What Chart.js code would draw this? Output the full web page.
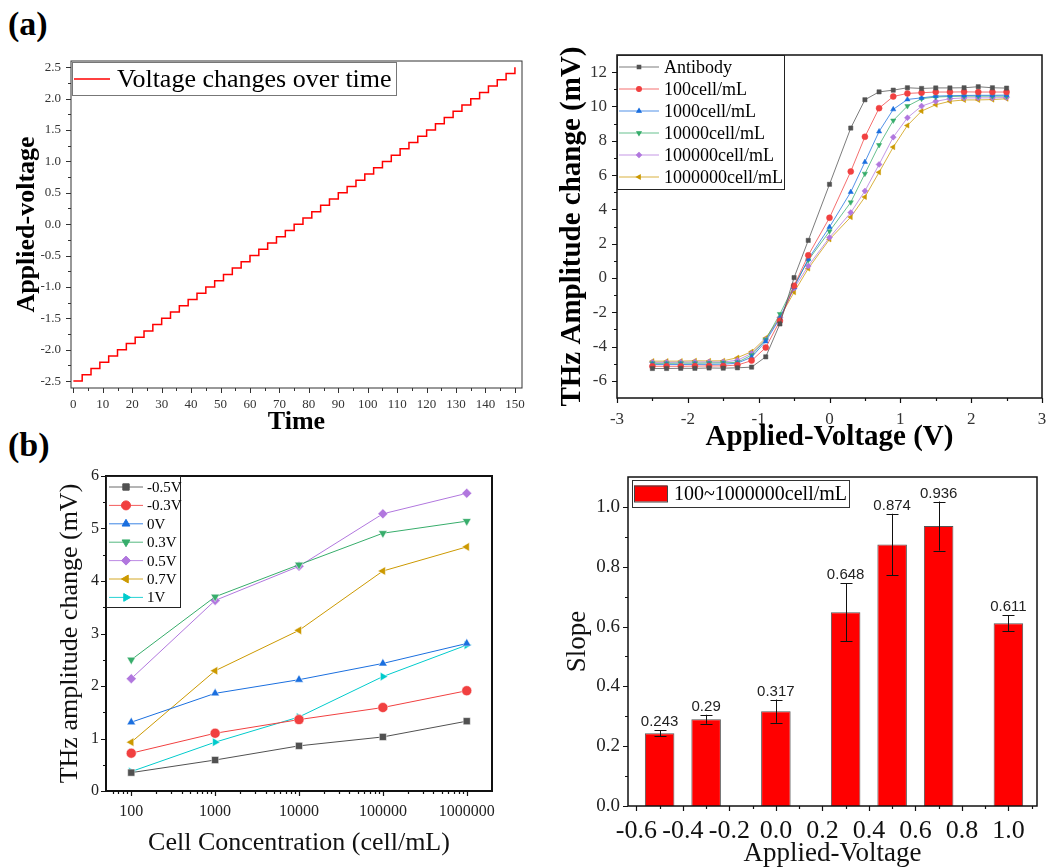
<!DOCTYPE html>
<html>
<head>
<meta charset="utf-8">
<script src="https://cdn.jsdelivr.net/npm/chart.js@4.4.1/dist/chart.umd.min.js"></script>
<style>
  body { margin: 0; background: #fff; width: 1048px; height: 867px; position: relative; overflow: hidden; }
  canvas { position: absolute; }
  .tag { position: absolute; font: bold 34px 'Liberation Serif', 'Times New Roman', serif; line-height: 34px; color: #000; }
</style>
</head>
<body>
<div class="tag" style="left:8px;top:7px">(a)</div>
<div class="tag" style="left:8px;top:428px">(b)</div>
<canvas id="stepChart" width="530" height="440" style="left:0;top:0"></canvas>
<canvas id="ampChart" width="518" height="420" style="left:530px;top:40px"></canvas>
<canvas id="concChart" width="530" height="427" style="left:0;top:440px"></canvas>
<canvas id="slopeChart" width="488" height="407" style="left:560px;top:460px"></canvas>
<script>
// ---- data: stepped voltage ramp ----
const stepTime = [0, 3, 6, 9, 12, 15, 18, 21, 24, 27, 30, 33, 36, 39, 42, 45, 48, 51, 54, 57,
  60, 63, 66, 69, 72, 75, 78, 81, 84, 87, 90, 93, 96, 99, 102, 105, 108, 111, 114, 117,
  120, 123, 126, 129, 132, 135, 138, 141, 144, 147, 150];
const stepVoltage = [-2.5, -2.4, -2.3, -2.2, -2.1, -2.0, -1.9, -1.8, -1.7, -1.6, -1.5, -1.4, -1.3, -1.2, -1.1,
  -1.0, -0.9, -0.8, -0.7, -0.6, -0.5, -0.4, -0.3, -0.2, -0.1, 0.0, 0.1, 0.2, 0.3, 0.4, 0.5,
  0.6, 0.7, 0.8, 0.9, 1.0, 1.1, 1.2, 1.3, 1.4, 1.5, 1.6, 1.7, 1.8, 1.9, 2.0, 2.1, 2.2, 2.3, 2.4, 2.5];
const stepTicksX = [0, 10, 20, 30, 40, 50, 60, 70, 80, 90, 100, 110, 120, 130, 140, 150];
const stepTicksY = [-2.5, -2.0, -1.5, -1.0, -0.5, 0.0, 0.5, 1.0, 1.5, 2.0, 2.5];

// ---- data: THz amplitude vs applied voltage ----
const ampVoltage = [-2.5, -2.3, -2.1, -1.9, -1.7, -1.5, -1.3, -1.1, -0.9, -0.7, -0.5, -0.3, 0,
  0.3, 0.5, 0.7, 0.9, 1.1, 1.3, 1.5, 1.7, 1.9, 2.1, 2.3, 2.5];
const ampAntibody = [-5.28, -5.28, -5.27, -5.27, -5.25, -5.26, -5.24, -5.2, -4.6, -2.68, 0.02, 2.19, 5.46,
  8.74, 10.39, 10.85, 10.95, 11.09, 11.05, 11.08, 11.08, 11.09, 11.15, 11.09, 11.07];
const amp100 = [-5.15, -5.15, -5.15, -5.14, -5.13, -5.13, -5.08, -4.82, -4.06, -2.5, -0.45, 1.32, 3.51,
  6.21, 8.23, 9.9, 10.58, 10.76, 10.8, 10.84, 10.84, 10.85, 10.84, 10.84, 10.84];
const amp1000 = [-5.05, -5.05, -5.05, -5.04, -5.04, -5.03, -4.97, -4.62, -3.7, -2.35, -0.55, 1.1, 2.97,
  5.01, 6.76, 8.54, 9.83, 10.41, 10.5, 10.6, 10.63, 10.64, 10.65, 10.65, 10.66];
const amp10000 = [-4.98, -4.98, -4.97, -4.97, -4.96, -4.95, -4.92, -4.5, -3.6, -2.1, -0.45, 1.03, 2.72,
  4.41, 6.08, 7.75, 9.18, 10.02, 10.45, 10.55, 10.58, 10.6, 10.6, 10.6, 10.6];
const amp100000 = [-4.92, -4.92, -4.91, -4.9, -4.9, -4.9, -4.8, -4.4, -3.6, -2.3, -0.6, 0.7, 2.36,
  3.81, 5.07, 6.62, 8.21, 9.34, 10.02, 10.3, 10.45, 10.5, 10.5, 10.5, 10.52];
const amp1000000 = [-4.85, -4.85, -4.85, -4.83, -4.84, -4.83, -4.65, -4.3, -3.5, -2.3, -0.83, 0.55, 2.25,
  3.55, 4.72, 6.16, 7.63, 8.89, 9.73, 10.1, 10.3, 10.38, 10.38, 10.4, 10.45];
const ampLabels = ['Antibody', '100cell/mL', '1000cell/mL', '10000cell/mL', '100000cell/mL', '1000000cell/mL'];
const ampTicksX = [-3, -2, -1, 0, 1, 2, 3];
const ampTicksY = [-6, -4, -2, 0, 2, 4, 6, 8, 10, 12];

// ---- data: amplitude change vs cell concentration ----
const concLevels = [100, 1000, 10000, 100000, 1000000];
const concM05 = [0.35, 0.59, 0.86, 1.03, 1.33];
const concM03 = [0.72, 1.10, 1.36, 1.59, 1.91];
const conc0 = [1.31, 1.86, 2.12, 2.43, 2.81];
const conc03 = [2.50, 3.70, 4.31, 4.91, 5.14];
const conc05 = [2.14, 3.63, 4.28, 5.28, 5.67];
const conc07 = [0.93, 2.29, 3.06, 4.19, 4.65];
const conc1 = [0.37, 0.93, 1.41, 2.18, 2.78];
const concLabels = ['-0.5V', '-0.3V', '0V', '0.3V', '0.5V', '0.7V', '1V'];
const concTicksY = [0, 1, 2, 3, 4, 5, 6];

// ---- data: slope per applied voltage ----
const slopeVoltage = [-0.5, -0.3, 0.0, 0.3, 0.5, 0.7, 1.0];
const slopeValue = [0.243, 0.29, 0.317, 0.648, 0.874, 0.936, 0.611];
const slopeError = [0.01, 0.015, 0.039, 0.097, 0.103, 0.082, 0.026];
const slopeLegend = '100~1000000cell/mL';
const slopeTicksX = [-0.6, -0.4, -0.2, 0.0, 0.2, 0.4, 0.6, 0.8, 1.0];
const slopeTicksY = [0.0, 0.2, 0.4, 0.6, 0.8, 1.0];

const SERIF = "'Liberation Serif', 'Times New Roman', serif";
const SANS = "'Liberation Sans', Arial, sans-serif";
const COLORS = ['#515151', '#F14040', '#1A6FDF', '#37AD6B', '#B177DE', '#CC9900', '#00CBCC'];
const MARKERS = [
  { style: 'rect', rot: 0 }, { style: 'circle', rot: 0 }, { style: 'triangle', rot: 0 },
  { style: 'triangle', rot: 180 }, { style: 'rectRot', rot: 0 }, { style: 'triangle', rot: -90 },
  { style: 'triangle', rot: 90 }
];

// midpoints between major ticks (plus one step past each end), kept inside the axis
function minorLinear(majors, min, max) {
  const step = majors[1] - majors[0];
  const out = [majors[0] - step / 2];
  majors.forEach(v => out.push(v + step / 2));
  return out.filter(v => v > min + 1e-9 && v < max - 1e-9);
}
function minorLog(min, max) {
  const out = [];
  for (let d = 1; d <= 1e7; d *= 10) {
    for (let k = 2; k <= 9; k++) {
      const v = k * d;
      if (v > min && v < max) out.push(v);
    }
  }
  return out;
}

// frame around the plot area plus outward major/minor tick marks
const frameTicks = {
  id: 'frameTicks',
  afterDraw(chart, args, o) {
    const { ctx, chartArea: a } = chart;
    const xs = chart.scales.x, ys = chart.scales.y;
    ctx.save();
    ctx.strokeStyle = o.color;
    ctx.lineWidth = o.width;
    ctx.strokeRect(a.left, a.top, a.right - a.left, a.bottom - a.top);
    ctx.lineWidth = o.tickWidth;
    ctx.beginPath();
    const xt = (vals, len) => vals.forEach(v => {
      const p = Math.round(xs.getPixelForValue(v)) + 0.5;
      ctx.moveTo(p, a.bottom); ctx.lineTo(p, a.bottom + len);
    });
    const yt = (vals, len) => vals.forEach(v => {
      const p = Math.round(ys.getPixelForValue(v)) + 0.5;
      ctx.moveTo(a.left, p); ctx.lineTo(a.left - len, p);
    });
    xt(o.xMajor, o.len); xt(o.xMinor, o.minorLen);
    yt(o.yMajor, o.len); yt(o.yMinor, o.minorLen);
    ctx.stroke();
    ctx.restore();
  }
};

// boxed legend inside the plot area
const boxLegend = {
  id: 'boxLegend',
  afterDraw(chart, args, o) {
    if (!o.items) return;
    const { ctx, chartArea: a } = chart;
    const x0 = a.left + o.dx, y0 = a.top + o.dy;
    ctx.save();
    ctx.fillStyle = '#fff';
    ctx.fillRect(x0, y0, o.w, o.h);
    ctx.strokeStyle = o.border;
    ctx.lineWidth = 1;
    ctx.strokeRect(x0 + 0.5, y0 + 0.5, o.w, o.h);
    o.items.forEach((it, i) => {
      const cy = y0 + o.first + i * o.gap;
      if (it.swatch) {
        ctx.fillStyle = it.color;
        ctx.fillRect(x0 + o.lineX0, cy - o.swatchH / 2, o.lineX1 - o.lineX0, o.swatchH);
        ctx.strokeStyle = '#444';
        ctx.strokeRect(x0 + o.lineX0 + 0.5, cy - o.swatchH / 2 + 0.5, o.lineX1 - o.lineX0, o.swatchH);
      } else {
        ctx.strokeStyle = it.color;
        ctx.globalAlpha = it.lineAlpha || 1;
        ctx.lineWidth = o.lineWidth;
        ctx.beginPath();
        ctx.moveTo(x0 + o.lineX0, cy); ctx.lineTo(x0 + o.lineX1, cy);
        ctx.stroke();
        ctx.globalAlpha = 1;
        if (it.marker) {
          ctx.fillStyle = it.color;
          ctx.strokeStyle = it.color;
          Chart.helpers.drawPoint(ctx, { pointStyle: it.marker.style, rotation: it.marker.rot, radius: o.markerR, borderWidth: 0.5 },
            x0 + (o.lineX0 + o.lineX1) / 2, cy);
        }
      }
      ctx.fillStyle = o.textColor || '#000';
      ctx.font = o.font;
      ctx.textBaseline = 'middle';
      ctx.textAlign = 'left';
      ctx.fillText(it.text, x0 + o.textX, cy + 1);
    });
    ctx.restore();
  }
};

// error bars and value labels on top of the slope bars
const barExtras = {
  id: 'barExtras',
  afterDatasetsDraw(chart) {
    const { ctx } = chart;
    const ys = chart.scales.y;
    const meta = chart.getDatasetMeta(0);
    ctx.save();
    ctx.strokeStyle = '#111';
    ctx.lineWidth = 1;
    meta.data.forEach((bar, i) => {
      const x = Math.round(bar.x) + 0.5;
      const top = ys.getPixelForValue(slopeValue[i] + slopeError[i]);
      const bot = ys.getPixelForValue(slopeValue[i] - slopeError[i]);
      ctx.beginPath();
      ctx.moveTo(x, top); ctx.lineTo(x, bot);
      ctx.moveTo(x - 6, Math.round(top) + 0.5); ctx.lineTo(x + 6, Math.round(top) + 0.5);
      ctx.moveTo(x - 6, Math.round(bot) + 0.5); ctx.lineTo(x + 6, Math.round(bot) + 0.5);
      ctx.stroke();
      ctx.fillStyle = '#222';
      ctx.font = '15px ' + SANS;
      ctx.textAlign = 'center';
      ctx.textBaseline = 'alphabetic';
      ctx.fillText(String(slopeValue[i]), bar.x, top - 4);
    });
    ctx.restore();
  }
};

function fixedTicks(list) {
  return scale => { scale.ticks = list.map(v => ({ value: v })); };
}
function fitY(w) {
  return s => { s.width = w; s.paddingTop = 0; s.paddingBottom = 0; };
}
function fitX(h) {
  return s => { s.height = h; s.paddingLeft = 0; s.paddingRight = 0; };
}
function baseOptions() {
  return {
    responsive: false,
    animation: false,
    devicePixelRatio: 1,
    events: [],
    plugins: { legend: { display: false }, tooltip: { enabled: false } }
  };
}
function pairs(xs, ys) {
  return xs.map((x, i) => ({ x: x, y: ys[i] }));
}
// tick marks come from frameTicks, so the library draws none of its own
const NO_GRID = { display: false, drawTicks: false, tickLength: 0 };

// (a) left: stepped ramp
(function () {
  const xMin = -0.8, xMax = 152.4, yMin = -2.61, yMax = 2.6;
  const opts = baseOptions();
  opts.layout = { padding: { top: 61, right: 8, left: 0, bottom: 0 } };
  opts.scales = {
    x: {
      type: 'linear', min: xMin, max: xMax,
      grid: NO_GRID, border: { display: false },
      afterBuildTicks: fixedTicks(stepTicksX), afterFit: fitX(52),
      ticks: { padding: 9, color: '#333', font: { family: SERIF, size: 13 }, maxRotation: 0, autoSkip: false },
      title: { display: true, text: 'Time', color: '#000', padding: { top: 0, bottom: 5 },
        font: { family: SERIF, size: 26, weight: 'bold', lineHeight: 1 } }
    },
    y: {
      type: 'linear', min: yMin, max: yMax,
      grid: NO_GRID, border: { display: false },
      afterBuildTicks: fixedTicks(stepTicksY), afterFit: fitY(71),
      ticks: { padding: 10, color: '#333', font: { family: SERIF, size: 13 }, callback: v => v.toFixed(1) },
      title: { display: true, text: 'Applied-voltage', color: '#000', padding: { top: 14, bottom: 0 },
        font: { family: SERIF, size: 26, weight: 'bold', lineHeight: 1 } }
    }
  };
  opts.plugins.frameTicks = {
    color: '#333', width: 1, tickWidth: 1, len: 5, minorLen: 3,
    xMajor: stepTicksX, xMinor: minorLinear(stepTicksX, xMin, xMax),
    yMajor: stepTicksY, yMinor: minorLinear(stepTicksY, yMin, yMax)
  };
  opts.plugins.boxLegend = {
    dx: 1, dy: 1, w: 324, h: 33, border: '#777', first: 17, gap: 0,
    lineX0: 2, lineX1: 38, lineWidth: 1.5, textX: 45,
    font: '26px ' + SERIF,
    items: [{ text: 'Voltage changes over time', color: '#FF0000' }]
  };
  new Chart(document.getElementById('stepChart'), {
    type: 'line',
    data: {
      datasets: [{
        data: pairs(stepTime, stepVoltage),
        borderColor: '#FF0000', borderWidth: 1.5, pointRadius: 0, stepped: true, fill: false
      }]
    },
    options: opts,
    plugins: [frameTicks, boxLegend]
  });
})();

// (a) right: amplitude change vs applied voltage
(function () {
  const xMin = -3, xMax = 3, yMin = -7, yMax = 13;
  const series = [ampAntibody, amp100, amp1000, amp10000, amp100000, amp1000000];
  const opts = baseOptions();
  opts.layout = { padding: { top: 15, right: 6, left: 0, bottom: 0 } };
  opts.scales = {
    x: {
      type: 'linear', min: xMin, max: xMax,
      grid: NO_GRID, border: { display: false },
      afterBuildTicks: fixedTicks(ampTicksX), afterFit: fitX(62),
      ticks: { padding: 11, color: '#333', font: { family: SERIF, size: 17 }, maxRotation: 0, autoSkip: false },
      title: { display: true, text: 'Applied-Voltage (V)', color: '#000', padding: { top: 0, bottom: 8 },
        font: { family: SERIF, size: 29, weight: 'bold', lineHeight: 1 } }
    },
    y: {
      type: 'linear', min: yMin, max: yMax,
      grid: NO_GRID, border: { display: false },
      afterBuildTicks: fixedTicks(ampTicksY), afterFit: fitY(87),
      ticks: { padding: 10, color: '#333', font: { family: SERIF, size: 17 } },
      title: { display: true, text: 'THz Amplitude change (mV)', color: '#000', padding: { top: 28, bottom: 0 },
        font: { family: SERIF, size: 29, weight: 'bold', lineHeight: 1 } }
    }
  };
  opts.plugins.frameTicks = {
    color: '#111', width: 1.5, tickWidth: 1.2, len: 5, minorLen: 3,
    xMajor: ampTicksX, xMinor: minorLinear(ampTicksX, xMin, xMax),
    yMajor: ampTicksY, yMinor: minorLinear(ampTicksY, yMin, yMax)
  };
  opts.plugins.boxLegend = {
    dx: 0, dy: 0, w: 167, h: 134, border: '#222', first: 12, gap: 22,
    lineX0: 2, lineX1: 42, lineWidth: 1.2, textX: 47, markerR: 2.4,
    font: '18px ' + SERIF,
    items: ampLabels.map((t, i) => ({ text: t, color: COLORS[i], marker: MARKERS[i], lineAlpha: 0.75 }))
  };
  new Chart(document.getElementById('ampChart'), {
    type: 'line',
    data: {
      datasets: series.map((s, i) => ({
        data: pairs(ampVoltage, s),
        borderColor: COLORS[i] + 'C0', backgroundColor: COLORS[i], borderWidth: 1,
        pointStyle: MARKERS[i].style, pointRotation: MARKERS[i].rot,
        pointRadius: 3, pointBorderWidth: 0.5, pointBorderColor: COLORS[i],
        tension: 0, fill: false
      }))
    },
    options: opts,
    plugins: [frameTicks, boxLegend]
  });
})();

// (b) left: amplitude change vs cell concentration (log axis)
(function () {
  const xMin = 50, xMax = 2e6, yMin = 0, yMax = 6;
  const series = [concM05, concM03, conc0, conc03, conc05, conc07, conc1];
  const opts = baseOptions();
  opts.layout = { padding: { top: 36, right: 38, left: 0, bottom: 0 } };
  opts.scales = {
    x: {
      type: 'logarithmic', min: xMin, max: xMax,
      grid: NO_GRID, border: { display: false },
      afterBuildTicks: fixedTicks(concLevels), afterFit: fitX(76),
      ticks: { padding: 11, color: '#222', font: { family: SERIF, size: 16 }, maxRotation: 0, autoSkip: false,
        callback: v => String(v) },
      title: { display: true, text: 'Cell Concentration (cell/mL)', color: '#111', padding: { top: 0, bottom: 11 },
        font: { family: SERIF, size: 26, lineHeight: 1 } }
    },
    y: {
      type: 'linear', min: yMin, max: yMax,
      grid: NO_GRID, border: { display: false },
      afterBuildTicks: fixedTicks(concTicksY), afterFit: fitY(106),
      ticks: { padding: 7, color: '#222', font: { family: SERIF, size: 16 } },
      title: { display: true, text: 'THz amplitude change (mV)', color: '#111', padding: { top: 57, bottom: 0 },
        font: { family: SERIF, size: 26, lineHeight: 1 } }
    }
  };
  opts.plugins.frameTicks = {
    color: '#111', width: 2, tickWidth: 1.2, len: 5, minorLen: 3,
    xMajor: concLevels, xMinor: minorLog(xMin, xMax),
    yMajor: concTicksY, yMinor: minorLinear(concTicksY, yMin, yMax)
  };
  opts.plugins.boxLegend = {
    dx: 0, dy: 0, w: 74, h: 131, border: '#222', first: 11, gap: 18.4,
    lineX0: 3, lineX1: 37, lineWidth: 1, textX: 41, markerR: 4.5,
    font: '15px ' + SERIF,
    items: concLabels.map((t, i) => ({ text: t, color: COLORS[i], marker: MARKERS[i], lineAlpha: 0.85 }))
  };
  new Chart(document.getElementById('concChart'), {
    type: 'line',
    data: {
      datasets: series.map((s, i) => ({
        data: pairs(concLevels, s),
        borderColor: COLORS[i], backgroundColor: COLORS[i], borderWidth: 1,
        pointStyle: MARKERS[i].style, pointRotation: MARKERS[i].rot,
        pointRadius: 5, pointBorderWidth: 0.5, pointBorderColor: '#ffffff',
        tension: 0, fill: false
      }))
    },
    options: opts,
    plugins: [frameTicks, boxLegend]
  });
})();

// (b) right: slope bars with error bars
(function () {
  const xMin = -0.636, xMax = 1.123, yMin = 0, yMax = 1.1;
  const opts = baseOptions();
  opts.layout = { padding: { top: 17, right: 11, left: 0, bottom: 0 } };
  opts.scales = {
    x: {
      type: 'linear', min: xMin, max: xMax, offset: false,
      grid: NO_GRID, border: { display: false },
      afterBuildTicks: fixedTicks(slopeTicksX), afterFit: fitX(61),
      ticks: { padding: 10, color: '#111', font: { family: SERIF, size: 26 }, maxRotation: 0, autoSkip: false,
        callback: v => v.toFixed(1) },
      title: { display: true, text: 'Applied-Voltage', color: '#111', padding: { top: 0, bottom: 0 },
        font: { family: SERIF, size: 27, lineHeight: 1 } }
    },
    y: {
      type: 'linear', min: yMin, max: yMax,
      grid: NO_GRID, border: { display: false },
      afterBuildTicks: fixedTicks(slopeTicksY), afterFit: fitY(68),
      ticks: { padding: 8, color: '#222', font: { family: SERIF, size: 19 }, callback: v => v.toFixed(1) },
      title: { display: true, text: 'Slope', color: '#111', padding: { top: 4, bottom: 0 },
        font: { family: SERIF, size: 27, lineHeight: 1 } }
    }
  };
  opts.plugins.frameTicks = {
    color: '#111', width: 1.5, tickWidth: 1.2, len: 5, minorLen: 3,
    xMajor: slopeTicksX, xMinor: minorLinear(slopeTicksX, xMin, xMax),
    yMajor: slopeTicksY, yMinor: minorLinear(slopeTicksY, yMin, yMax)
  };
  opts.plugins.boxLegend = {
    dx: 4, dy: 3, w: 217, h: 27, border: '#333', first: 13.5, gap: 0,
    lineX0: 2, lineX1: 35, swatchH: 16, textX: 42,
    font: '20px ' + SERIF,
    items: [{ text: slopeLegend, color: '#FF0000', swatch: true }]
  };
  new Chart(document.getElementById('slopeChart'), {
    type: 'bar',
    data: {
      datasets: [{
        data: pairs(slopeVoltage, slopeValue),
        backgroundColor: '#FF0000', borderColor: '#555', borderWidth: 1,
        categoryPercentage: 1, barPercentage: 0.635
      }]
    },
    options: opts,
    plugins: [frameTicks, boxLegend, barExtras]
  });
})();
</script>
</body>
</html>
